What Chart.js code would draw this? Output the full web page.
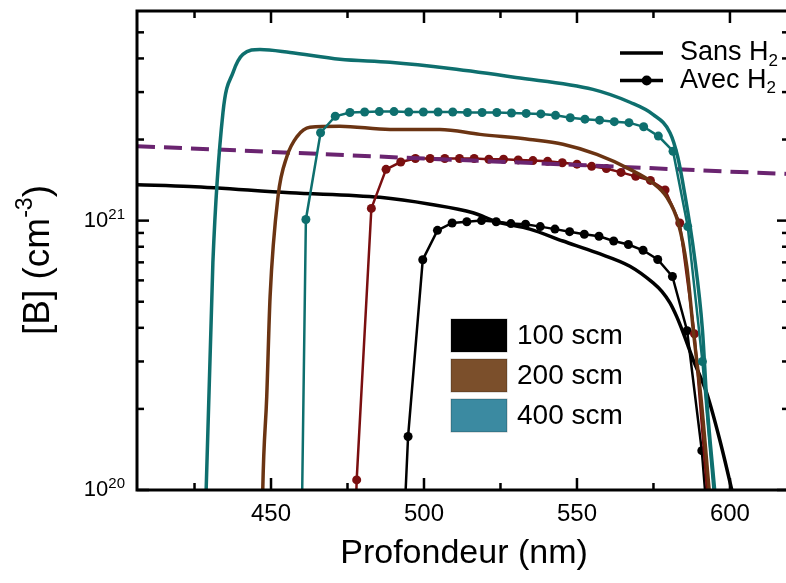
<!DOCTYPE html>
<html>
<head>
<meta charset="utf-8">
<script src="https://cdn.jsdelivr.net/npm/chart.js@4.4.1/dist/chart.umd.min.js"></script>
<style>
  html, body { margin: 0; padding: 0; background: #fff; overflow: hidden; }
  #wrap { width: 800px; height: 583px; }
</style>
</head>
<body>
<div id="wrap"><canvas id="profil" width="800" height="583"></canvas></div>
<script>
// profondeur (nm) / concentration de bore (cm-3)
var tealSolidX = [428.3, 428.8, 431.0, 434.3, 437.6, 440.8, 446.4, 456.2, 472.5, 488.9, 508.5, 530.0, 555.2, 567.3, 574.8, 580.4, 582.9, 585.0, 588.4, 591.0, 592.4, 595.0];
var tealSolidY = [5e19, 1.0e20, 6.98e20, 2.52e21, 3.55e21, 4.14e21, 4.32e21, 4.21e21, 3.97e21, 3.87e21, 3.67e21, 3.40e21, 3.07e21, 2.75e21, 2.48e21, 2.12e21, 1.73e21, 1.30e21, 7.35e20, 3.94e20, 2.16e20, 1.0e20];

var tealDotX = [456.6, 461.4, 466.2, 471.0, 475.8, 480.6, 485.4, 490.2, 495.0, 499.8, 504.6, 509.4, 514.2, 519.0, 523.8, 528.6, 533.4, 538.2, 543.0, 547.8, 552.6, 557.4, 562.2, 567.0, 571.8, 576.6, 581.4, 586.2, 591.0, 595.8];
var tealDotY = [1e17, 1.01e21, 2.12e21, 2.44e21, 2.52e21, 2.53e21, 2.54e21, 2.54e21, 2.53e21, 2.53e21, 2.53e21, 2.53e21, 2.52e21, 2.52e21, 2.52e21, 2.51e21, 2.50e21, 2.49e21, 2.46e21, 2.41e21, 2.38e21, 2.36e21, 2.33e21, 2.31e21, 2.23e21, 2.06e21, 1.81e21, 9.5e20, 3.0e20, 7e19];

var brownX = [446.9, 447.3, 448.6, 449.7, 452.3, 455.2, 458.5, 462.7, 472.5, 488.9, 505.2, 518.3, 534.6, 545.4, 556.5, 567.3, 574.8, 579.4, 583.0, 585.9, 588.1, 590.6, 593.2];
var brownY = [5e19, 1.0e20, 2.22e20, 5.22e20, 1.23e21, 1.73e21, 2.05e21, 2.22e21, 2.24e21, 2.18e21, 2.18e21, 2.09e21, 2.00e21, 1.92e21, 1.76e21, 1.55e21, 1.38e21, 1.22e21, 9.9e20, 6.75e20, 3.84e20, 2.16e20, 1.0e20];

var redDotX = [473.2, 478.0, 482.8, 487.6, 492.4, 497.2, 502.0, 506.8, 511.6, 516.4, 521.2, 526.0, 530.8, 535.6, 540.4, 545.2, 550.0, 554.8, 559.6, 564.4, 569.2, 574.0, 578.8, 583.6, 588.4, 593.2];
var redDotY = [1e18, 1.09e20, 1.11e21, 1.55e21, 1.65e21, 1.70e21, 1.70e21, 1.70e21, 1.70e21, 1.70e21, 1.69e21, 1.69e21, 1.68e21, 1.67e21, 1.66e21, 1.64e21, 1.62e21, 1.59e21, 1.56e21, 1.51e21, 1.46e21, 1.41e21, 1.30e21, 9.8e20, 3.8e20, 8e19];

var blackSolidX = [406.2, 423.5, 456.2, 485.6, 502.0, 516.0, 523.8, 534.6, 545.4, 556.4, 567.3, 574.9, 577.8, 580.4, 582.6, 584.7, 588.0, 592.4, 596.7, 600.6, 601.5];
var blackSolidY = [1.36e21, 1.34e21, 1.27e21, 1.22e21, 1.15e21, 1.07e21, 9.9e20, 9.3e20, 8.4e20, 7.6e20, 6.77e20, 5.87e20, 5.45e20, 4.95e20, 4.4e20, 3.84e20, 3.04e20, 2.29e20, 1.53e20, 1.0e20, 9e19];

var blackDotX = [490.0, 494.8, 499.6, 504.4, 509.2, 514.0, 518.8, 523.6, 528.4, 533.2, 538.0, 542.8, 547.6, 552.4, 557.2, 562.0, 566.8, 571.6, 576.4, 581.2, 586.0, 590.8, 595.6];
var blackDotY = [1e19, 1.58e20, 7.16e20, 9.2e20, 9.8e20, 9.9e20, 1.0e21, 9.9e20, 9.75e20, 9.7e20, 9.5e20, 9.3e20, 9.1e20, 8.9e20, 8.75e20, 8.4e20, 8.15e20, 7.76e20, 7.17e20, 6.2e20, 3.9e20, 1.4e20, 3e19];

var purpleX = [406.2, 450, 500, 550, 600, 619.3];
var purpleY = [1.89e21, 1.80e21, 1.70e21, 1.61e21, 1.52e21, 1.49e21];

var xMajor = [450, 500, 550, 600];
var xMinor = [425, 475, 525, 575];
var yMajor = [1e20, 1e21];
var yMinor = [2e20, 3e20, 4e20, 5e20, 6e20, 7e20, 8e20, 9e20, 2e21, 3e21, 4e21, 5e21];

var gasLabels = ['Sans H', 'Avec H'];
var flowLabels = ['100 scm', '200 scm', '400 scm'];
var flowColors = ['#000000', '#7b4f2b', '#3b8aa1'];

var FONT = '"Liberation Sans", Arial, Helvetica, sans-serif';

function pts(xs, ys) {
  return xs.map(function (v, i) { return { x: v, y: ys[i] }; });
}

function supText(ctx, parts, x, y, align) {
  // parts: [text, size, dy]
  var w = 0;
  parts.forEach(function (p) { ctx.font = p[1] + 'px ' + FONT; w += ctx.measureText(p[0]).width; });
  var cx = align === 'right' ? x - w : (align === 'center' ? x - w / 2 : x);
  parts.forEach(function (p) {
    ctx.font = p[1] + 'px ' + FONT;
    ctx.fillText(p[0], cx, y + p[2]);
    cx += ctx.measureText(p[0]).width;
  });
}

var frame = {
  id: 'frame',
  afterDraw: function (chart) {
    var ctx = chart.ctx, a = chart.chartArea;
    var sx = chart.scales.x, sy = chart.scales.y;
    ctx.save();
    ctx.strokeStyle = '#000';
    ctx.fillStyle = '#000';
    ctx.lineWidth = 3;
    ctx.strokeRect(a.left, a.top, a.right - a.left, a.bottom - a.top);

    function seg(x1, y1, x2, y2) {
      ctx.beginPath(); ctx.moveTo(x1, y1); ctx.lineTo(x2, y2); ctx.stroke();
    }
    ctx.lineWidth = 2.5;
    xMajor.forEach(function (v) {
      var p = sx.getPixelForValue(v);
      seg(p, a.bottom, p, a.bottom - 12);
      seg(p, a.top, p, a.top + 12);
    });
    xMinor.forEach(function (v) {
      var p = sx.getPixelForValue(v);
      seg(p, a.bottom, p, a.bottom - 7);
      seg(p, a.top, p, a.top + 7);
    });
    yMajor.forEach(function (v) {
      var p = sy.getPixelForValue(v);
      seg(a.left, p, a.left + 12, p);
      seg(a.right, p, a.right - 12, p);
    });
    yMinor.forEach(function (v) {
      var p = sy.getPixelForValue(v);
      seg(a.left, p, a.left + 7, p);
      seg(a.right, p, a.right - 7, p);
    });

    // tick labels
    ctx.textBaseline = 'middle';
    ctx.textAlign = 'left';
    xMajor.forEach(function (v) {
      var p = sx.getPixelForValue(v);
      supText(ctx, [[String(v), 24, 0]], p, a.bottom + 24, 'center');
    });
    yMajor.forEach(function (v) {
      var p = sy.getPixelForValue(v);
      var e = Math.round(Math.log10(v));
      supText(ctx, [['10', 22, 0], [String(e), 15, -6]], 125, p, 'right');
    });

    // axis titles
    supText(ctx, [['Profondeur (nm)', 34, 0]], 464, 554, 'center');
    ctx.save();
    ctx.translate(39, 260);
    ctx.rotate(-Math.PI / 2);
    supText(ctx, [['[B] (cm', 37, 0], ['-3', 23, -13], [')', 37, 0]], 0, 0, 'center');
    ctx.restore();

    // legend: gas
    var ly = [53, 80.5];
    ctx.lineWidth = 3.5;
    gasLabels.forEach(function (t, i) {
      seg(620, ly[i], 663, ly[i]);
      if (i === 1) {
        ctx.beginPath(); ctx.arc(646.7, ly[i], 5, 0, Math.PI * 2); ctx.fill();
      }
      supText(ctx, [[t, 27, 0], ['2', 17, 8]], 680, ly[i], 'left');
    });

    // legend: flow
    var by = [319, 359, 399];
    flowLabels.forEach(function (t, i) {
      ctx.fillStyle = flowColors[i];
      ctx.fillRect(451, by[i], 56, 33);
      ctx.strokeStyle = 'rgba(0,0,0,0.25)';
      ctx.lineWidth = 1;
      ctx.strokeRect(451, by[i], 56, 33);
      ctx.fillStyle = '#000';
      supText(ctx, [[t, 28, 0]], 517, by[i] + 17, 'left');
    });
    ctx.restore();
  }
};

var ctx = document.getElementById('profil').getContext('2d');
var chart = new Chart(ctx, {
  type: 'line',
  data: {
    datasets: [{
      label: '400 scm sans H2',
      data: pts(tealSolidX, tealSolidY),
      borderColor: '#0e6f6e', borderWidth: 3.5, pointRadius: 0,
      cubicInterpolationMode: 'monotone', order: 1
    }, {
      label: '400 scm avec H2',
      data: pts(tealDotX, tealDotY),
      borderColor: '#0e6f6e', backgroundColor: '#0e6f6e', borderWidth: 2.5,
      pointRadius: 4.5, pointBorderWidth: 0, order: 2
    }, {
      label: '200 scm sans H2',
      data: pts(brownX, brownY),
      borderColor: '#6b3413', borderWidth: 3.5, pointRadius: 0,
      cubicInterpolationMode: 'monotone', order: 3
    }, {
      label: 'limite',
      data: pts(purpleX, purpleY),
      borderColor: '#6a2470', borderWidth: 4, borderDash: [18, 9], pointRadius: 0,
      order: 4
    }, {
      label: '200 scm avec H2',
      data: pts(redDotX, redDotY),
      borderColor: '#7a0f10', backgroundColor: '#7a0f10', borderWidth: 2.5,
      pointRadius: 4.5, pointBorderWidth: 0, order: 5
    }, {
      label: '100 scm avec H2',
      data: pts(blackDotX, blackDotY),
      borderColor: '#000', backgroundColor: '#000', borderWidth: 2.5,
      pointRadius: 4.5, pointBorderWidth: 0, order: 6
    }, {
      label: '100 scm sans H2',
      data: pts(blackSolidX, blackSolidY),
      borderColor: '#000', borderWidth: 3.5, pointRadius: 0,
      cubicInterpolationMode: 'monotone', order: 7
    }]
  },
  options: {
    responsive: false,
    animation: false,
    clip: 0,
    layout: { padding: { left: 137, top: 11, right: 11, bottom: 93 } },
    plugins: { legend: { display: false }, tooltip: { enabled: false } },
    scales: {
      x: { type: 'linear', min: 406.2, max: 619.3, display: false },
      y: { type: 'logarithmic', min: 1e20, max: 6e21, display: false }
    }
  },
  plugins: [frame]
});
</script>
</body>
</html>
